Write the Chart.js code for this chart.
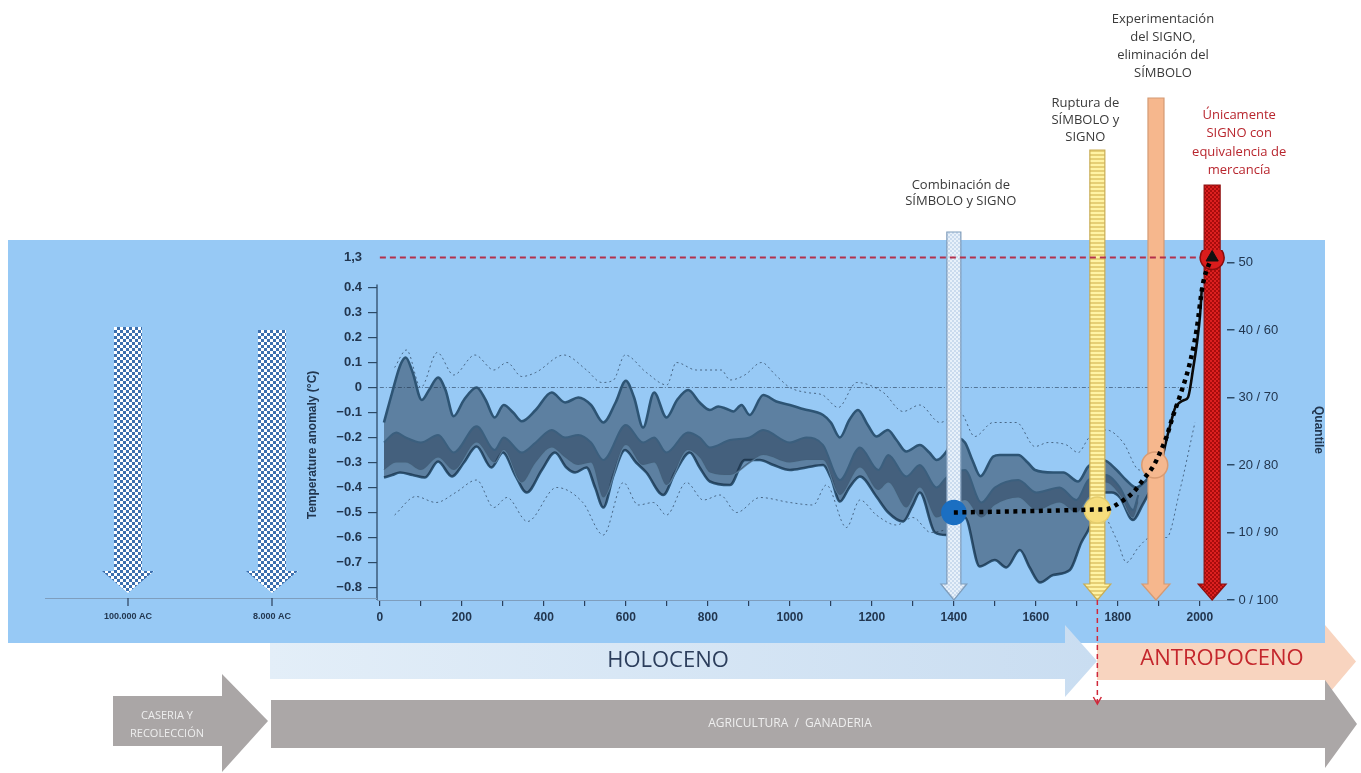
<!DOCTYPE html>
<html><head><meta charset="utf-8">
<script src="https://cdn.jsdelivr.net/npm/chart.js@4.4.1/dist/chart.umd.min.js"></script>
<style>html,body{margin:0;padding:0;background:#fff;}canvas{display:block;}</style>
</head><body>
<canvas id="c" width="1361" height="773"></canvas>
<script>
// ---------- DATA ----------
const upperYears = [10,30,50,63,80,102,120,142,160,180,205,236,258,280,302,325,346,380,419,452,484,515,545,575,600,620,642,669,699,725,752,780,805,825,845,862,882,902,935,967,1000,1032,1081,1100,1122,1145,1166,1190,1211,1239,1260,1284,1317,1340,1358,1382,1400,1427,1445,1465,1496,1512,1557,1580,1598,1642,1667,1703,1728,1764,1797,1820,1845,1870,1895];
const upperVals  = [-0.14,-0.02,0.09,0.12,0.06,-0.05,-0.01,0.04,-0.01,-0.115,-0.05,0.0,-0.05,-0.12,-0.07,-0.1,-0.135,-0.09,-0.02,-0.06,-0.04,-0.07,-0.14,-0.06,0.027,-0.04,-0.16,-0.02,-0.12,-0.05,-0.01,-0.06,-0.09,-0.076,-0.085,-0.096,-0.07,-0.11,-0.03,-0.056,-0.07,-0.086,-0.11,-0.14,-0.2,-0.13,-0.09,-0.15,-0.196,-0.17,-0.21,-0.256,-0.23,-0.26,-0.29,-0.256,-0.2,-0.22,-0.29,-0.355,-0.276,-0.27,-0.27,-0.3,-0.33,-0.34,-0.34,-0.376,-0.316,-0.29,-0.33,-0.37,-0.4,-0.37,-0.32];
const lowerYears = [10,30,49,80,110,142,176,205,236,272,300,330,358,395,427,455,476,504,525,545,570,598,625,650,691,720,756,780,805,854,890,927,960,1000,1040,1081,1100,1122,1145,1171,1211,1240,1276,1300,1317,1354,1382,1400,1427,1463,1500,1528,1561,1585,1610,1642,1683,1711,1728,1750,1764,1785,1805,1837,1860,1895];
const lowerVals  = [-0.36,-0.35,-0.34,-0.35,-0.36,-0.296,-0.356,-0.3,-0.236,-0.32,-0.26,-0.35,-0.42,-0.33,-0.26,-0.32,-0.34,-0.32,-0.4,-0.48,-0.35,-0.25,-0.3,-0.34,-0.43,-0.34,-0.26,-0.32,-0.376,-0.39,-0.29,-0.29,-0.31,-0.33,-0.32,-0.31,-0.36,-0.456,-0.4,-0.356,-0.436,-0.5,-0.536,-0.47,-0.42,-0.58,-0.59,-0.57,-0.52,-0.716,-0.69,-0.72,-0.65,-0.72,-0.78,-0.75,-0.73,-0.62,-0.57,-0.48,-0.42,-0.42,-0.44,-0.53,-0.47,-0.36];
const medianYears = [10,40,63,100,142,180,236,280,302,346,380,419,452,484,515,545,600,642,669,699,751,780,805,854,902,935,1000,1040,1081,1122,1171,1216,1240,1284,1317,1358,1382,1427,1467,1500,1557,1601,1658,1699,1728,1770,1805,1837,1850];
const medianVals  = [-0.22,-0.18,-0.2,-0.22,-0.19,-0.26,-0.155,-0.25,-0.2,-0.26,-0.22,-0.17,-0.2,-0.19,-0.22,-0.29,-0.15,-0.22,-0.2,-0.26,-0.18,-0.2,-0.24,-0.21,-0.2,-0.17,-0.22,-0.2,-0.23,-0.37,-0.24,-0.33,-0.27,-0.356,-0.31,-0.4,-0.36,-0.33,-0.46,-0.4,-0.37,-0.42,-0.4,-0.45,-0.37,-0.35,-0.4,-0.49,-0.43];
const innerLowVals = [-0.33,-0.3,-0.3,-0.33,-0.28,-0.33,-0.22,-0.3,-0.25,-0.38,-0.3,-0.24,-0.28,-0.31,-0.3,-0.44,-0.23,-0.31,-0.3,-0.39,-0.25,-0.28,-0.34,-0.35,-0.3,-0.27,-0.3,-0.29,-0.29,-0.43,-0.32,-0.41,-0.38,-0.48,-0.4,-0.52,-0.5,-0.45,-0.52,-0.47,-0.44,-0.49,-0.46,-0.5,-0.44,-0.38,-0.43,-0.52,-0.46];
const dotUpYears = [36,65,100,140,180,232,278,310,346,380,449,504,541,570,598,650,700,723,772,833,854,890,931,965,1000,1041,1080,1118,1163,1228,1276,1317,1366,1415,1451,1496,1553,1598,1630,1675,1703,1730,1772,1813,1853,1880];
const dotUpVals  = [0.08,0.15,0.0,0.14,0.05,0.13,0.07,0.1,0.044,0.06,0.13,0.07,0.02,0.03,0.13,0.06,0.01,0.1,0.07,0.07,0.03,0.05,0.1,0.05,0.0,-0.02,-0.03,-0.08,0.02,-0.02,-0.096,-0.07,-0.14,-0.1,-0.196,-0.14,-0.14,-0.236,-0.22,-0.23,-0.26,-0.2,-0.17,-0.22,-0.33,-0.3];
const dotLowYears = [36,88,137,185,236,278,310,360,431,495,545,594,630,667,699,748,789,830,870,927,1000,1057,1089,1138,1171,1211,1260,1300,1344,1380,1500,1772,1800,1821,1850,1880,1919,1950,1988];
const dotLowVals  = [-0.51,-0.436,-0.46,-0.42,-0.37,-0.48,-0.44,-0.536,-0.4,-0.46,-0.59,-0.38,-0.47,-0.46,-0.51,-0.38,-0.45,-0.43,-0.5,-0.44,-0.46,-0.47,-0.39,-0.56,-0.45,-0.51,-0.55,-0.52,-0.58,-0.57,null,-0.52,-0.62,-0.7,-0.64,-0.6,-0.6,-0.42,-0.14];
const instYears = [1900,1910,1920,1931,1940,1951,1962,1971,1984,1993,2000,2005];
const instVals  = [-0.34,-0.27,-0.2,-0.13,-0.08,-0.06,-0.05,-0.04,0.08,0.18,0.28,0.40];
const trendYears = [1400,1500,1600,1700,1750,1772,1805,1837,1866,1886,1903,1919,1934,1951,1976,1992,2007,2024,2030];
const trendVals  = [-0.5,-0.497,-0.494,-0.49,-0.488,-0.487,-0.46,-0.42,-0.36,-0.316,-0.26,-0.196,-0.116,-0.036,0.10,0.23,0.41,0.50,0.52];
const zeroYears = [0,2000];
const zeroVals  = [0,0];
const refYears = [0,2025];
const refVals  = [0.52,0.52];           // "1,3" break level
const markerYears  = [1400,1750,1890,2030];
const markerValues = [-0.5,-0.49,-0.31,0.52];
const annotYears = [1400,1750,1893,2030];
const annotLabels = [
  ["Combinación de","SÍMBOLO y SIGNO"],
  ["Ruptura de","SÍMBOLO y","SIGNO"],
  ["Experimentación","del SIGNO,","eliminación del","SÍMBOLO"],
  ["Únicamente","SIGNO con","equivalencia de","mercancía"]
];
const leftTicks = [-0.8,-0.7,-0.6,-0.5,-0.4,-0.3,-0.2,-0.1,0,0.1,0.2,0.3,0.4];
const breakTickValue = 0.52, breakTickLabel = "1,3";
const xTicks = [0,100,200,300,400,500,600,700,800,900,1000,1100,1200,1300,1400,1500,1600,1700,1800,1900,2000];
const xLabelTicks = [0,200,400,600,800,1000,1200,1400,1600,1800,2000];
const rightTicks = [0,10,20,30,40,50];
const rightLabels = ["0 / 100","10 / 90","20 / 80","30 / 70","40 / 60","50"];
const prehistLabels = ["100.000 AC","8.000 AC"];
const eraLabels = ["HOLOCENO","ANTROPOCENO"];
const activityLabels = [["CASERIA Y","RECOLECCIÓN"],["AGRICULTURA  /  GANADERIA"]];
const yTitle = "Temperature anomaly (°C)";
const y2Title = "Quantile";

// ---------- helpers ----------
const pts = (xs, ys) => xs.map((x,i)=>({x, y: ys[i]}));
const TXT = '#22364f';
const PANEL = '#97c9f5';
function checker(ctx,a,b,s){const c=document.createElement('canvas');c.width=c.height=2*s;const g=c.getContext('2d');g.fillStyle=a;g.fillRect(0,0,2*s,2*s);g.fillStyle=b;g.fillRect(0,0,s,s);g.fillRect(s,s,s,s);return ctx.createPattern(c,'repeat');}
function stripes(ctx,a,b,s){const c=document.createElement('canvas');c.width=2;c.height=2*s;const g=c.getContext('2d');g.fillStyle=a;g.fillRect(0,0,2,2*s);g.fillStyle=b;g.fillRect(0,s,2,s);return ctx.createPattern(c,'repeat');}
function downArrow(ctx,cx,top,tip,bw,hw,hl,fill,stroke,lw){
  ctx.beginPath();
  ctx.moveTo(cx-bw/2,top);ctx.lineTo(cx+bw/2,top);ctx.lineTo(cx+bw/2,tip-hl);ctx.lineTo(cx+hw/2,tip-hl);
  ctx.lineTo(cx,tip);ctx.lineTo(cx-hw/2,tip-hl);ctx.lineTo(cx-bw/2,tip-hl);ctx.closePath();
  ctx.fillStyle=fill;ctx.fill();
  if(stroke){ctx.strokeStyle=stroke;ctx.lineWidth=lw||1;ctx.stroke();}
}
function rightArrow(ctx,x0,top,bottom,hx,tip,htop,hbot,fill){
  const mid=(top+bottom)/2;
  ctx.beginPath();
  ctx.moveTo(x0,top);ctx.lineTo(hx,top);ctx.lineTo(hx,htop);ctx.lineTo(tip,mid);ctx.lineTo(hx,hbot);ctx.lineTo(hx,bottom);ctx.lineTo(x0,bottom);ctx.closePath();
  ctx.fillStyle=fill;ctx.fill();
}

const deco = {
  id:'deco',
  beforeDraw(chart){
    const ctx=chart.ctx;ctx.save();
    ctx.fillStyle='#fff';ctx.fillRect(0,0,chart.width,chart.height);
    ctx.fillStyle=PANEL;ctx.fillRect(8,240,1317,403);
    ctx.restore();
  },
  afterDatasetDraw(chart,args){
    if(chart.data.datasets[args.index].label!=='instrumental') return;
    const ctx=chart.ctx, xs=chart.scales.x, ys=chart.scales.y;
    const tip=ys.getPixelForValue(-0.85);
    const tops=[232,150,98,185];
    const fills=[checker(ctx,'#e8f1fa','#cadbee',2), stripes(ctx,'#fff3a4','#e6cf74',2), '#f6b78d', checker(ctx,'#dc2020','#a80c0c',2)];
    const strokes=['#7f9dbb','#c9ad55','#d49a74','#8e1010'];
    const widths=[14,15,16,16];
    ctx.save();
    annotYears.forEach((yr,i)=>{
      const cx=xs.getPixelForValue(yr);
      downArrow(ctx,cx,tops[i],tip,widths[i],widths[i]+12,16,fills[i],strokes[i],1.2);
    });
    ctx.restore();
  },
  afterDraw(chart){
    const ctx=chart.ctx, xs=chart.scales.x, ys=chart.scales.y, ca=chart.chartArea;
    ctx.save();
    // left axis line
    ctx.strokeStyle='#2d4a66';ctx.lineWidth=1.3;
    ctx.beginPath();ctx.moveTo(ca.left,ys.getPixelForValue(0.4)-3);ctx.lineTo(ca.left,ca.bottom);ctx.stroke();
    // baseline extension to the far past
    ctx.strokeStyle='#7e9ebe';ctx.lineWidth=1;
    ctx.beginPath();ctx.moveTo(45,ca.bottom-1.5);ctx.lineTo(ca.left,ca.bottom-1.5);ctx.stroke();
    // axis titles
    ctx.fillStyle=TXT;ctx.font='bold 12px "Liberation Sans", Arial';ctx.textAlign='center';ctx.textBaseline='middle';
    ctx.save();ctx.translate(313,445);ctx.rotate(-Math.PI/2);ctx.fillText(yTitle,0,0);ctx.restore();
    ctx.save();ctx.translate(1318,430);ctx.rotate(Math.PI/2);ctx.fillText(y2Title,0,0);ctx.restore();
    // prehistoric checkered arrows
    const blueCheck=checker(ctx,'#ffffff','#3c6fae',3);
    const pre=[[128,327],[272,330]];
    pre.forEach((p,i)=>{
      downArrow(ctx,p[0],p[1],593,28,52,22,blueCheck,null);
      ctx.strokeStyle='#2a3f5a';ctx.lineWidth=1.2;
      ctx.beginPath();ctx.moveTo(p[0],598);ctx.lineTo(p[0],606);ctx.stroke();
      ctx.fillStyle=TXT;ctx.font='bold 9px "Liberation Sans", Arial';ctx.textAlign='center';ctx.textBaseline='middle';
      ctx.fillText(prehistLabels[i],p[0],617);
    });
    // era arrows
    const gH=ctx.createLinearGradient(270,0,1097,0);gH.addColorStop(0,'#e3eef8');gH.addColorStop(1,'#c9ddf1');
    rightArrow(ctx,270,643,679,1065,1097,625,697,gH);
    rightArrow(ctx,1097,643,680,1325,1356,625,698,'#f8d4bf');
    ctx.font='22px "Open Sans", "Liberation Sans", sans-serif';ctx.textAlign='center';ctx.textBaseline='middle';
    ctx.fillStyle='#2c3e5c';ctx.fillText(eraLabels[0],668,661);
    ctx.fillStyle='#c4262c';ctx.fillText(eraLabels[1],1222,659);
    // activity arrows
    rightArrow(ctx,113,696,746,222,268,674,772,'#aaa6a6');
    rightArrow(ctx,271,700,748,1325,1357,680,768,'#aba7a7');
    ctx.fillStyle='#eeeeee';ctx.font='11px "Open Sans", "Liberation Sans", sans-serif';
    ctx.fillText(activityLabels[0][0],167,716);ctx.fillText(activityLabels[0][1],167,734);
    ctx.font='12px "Open Sans", "Liberation Sans", sans-serif';
    ctx.fillText(activityLabels[1][0],790,724);
    // red dashed vertical at the Anthropocene boundary
    const bx=xs.getPixelForValue(annotYears[1]);
    ctx.strokeStyle='#d0283a';ctx.lineWidth=1.5;ctx.setLineDash([5,4]);
    ctx.beginPath();ctx.moveTo(bx,ca.bottom);ctx.lineTo(bx,703);ctx.stroke();ctx.setLineDash([]);
    ctx.beginPath();ctx.moveTo(bx-4,697);ctx.lineTo(bx,704);ctx.lineTo(bx+4,697);ctx.stroke();
    // annotation labels
    const lx=[7,-12,7,27], ly=[185,103,19,115], lh=[16,17,18,18.5];
    ctx.font='13px "Open Sans", "Liberation Sans", sans-serif';ctx.textAlign='center';ctx.textBaseline='middle';
    annotLabels.forEach((lines,i)=>{
      const cx=xs.getPixelForValue(annotYears[i])+lx[i];
      ctx.fillStyle= i===3 ? '#b8262e' : '#3a3a3a';
      lines.forEach((t,j)=>ctx.fillText(t,cx,ly[i]+j*lh[i]));
    });
    ctx.restore();
  }
};

const line = (label, xs, ys, o) => Object.assign({label, data: pts(xs,ys), pointRadius:0, cubicInterpolationMode:'monotone', borderWidth:1, fill:false}, o);

const datasets = [
  line('dotUp', dotUpYears, dotUpVals, {borderColor:'rgba(30,50,75,0.65)', borderDash:[2,3], borderWidth:1, order:10}),
  line('dotLow', dotLowYears, dotLowVals, {borderColor:'rgba(30,50,75,0.65)', borderDash:[2,3], borderWidth:1, order:10, spanGaps:false}),
  line('zero', zeroYears, zeroVals, {borderColor:'rgba(30,50,75,0.55)', borderDash:[4,2,1,2], borderWidth:1, order:10}),
  line('upper', upperYears, upperVals, {borderColor:'#2d5474', borderWidth:2.6, order:9, fill:{target:4}, backgroundColor:'rgba(30,48,68,0.48)'}),
  line('lower', lowerYears, lowerVals, {borderColor:'#2d5474', borderWidth:2.6, order:9}),
  line('median', medianYears, medianVals, {borderColor:'#3b5f7e', borderWidth:2, order:8, fill:{target:6}, backgroundColor:'rgba(22,38,56,0.35)'}),
  line('innerLow', medianYears, innerLowVals, {borderColor:'#5b7f9e', borderWidth:1.6, order:8}),
  line('instrumental', instYears, instVals, {borderColor:'#0a0a0a', borderWidth:2.6, order:7}),
  line('ref', refYears, refVals, {borderColor:'#b4304c', borderDash:[6,4], borderWidth:2, order:4, cubicInterpolationMode:'default', tension:0}),
  {label:'markers', data: pts(markerYears, markerValues), showLine:false, order:3,
    pointRadius:[12,13,13,12], pointBackgroundColor:['#1b6fc2','#f6dd7c','#f5b88f','#d91c1c'],
    pointBorderColor:['#1b6fc2','#e4cc6c','#d99b72','#8a0c0c'], pointBorderWidth:1.5},
  line('trend', trendYears, trendVals, {borderColor:'#000', borderDash:[4,4.5], borderWidth:4.5, order:1}),
  {label:'tri', data: pts([markerYears[3]], [markerValues[3]]), showLine:false, order:0,
    pointStyle:'triangle', pointRadius:7, pointBackgroundColor:'#111', pointBorderColor:'#111'}
];

new Chart(document.getElementById('c'), {
  type:'line',
  data:{datasets},
  options:{
    responsive:false, devicePixelRatio:1, animation:false, events:[],
    layout:{padding:{top:250,left:0,right:0,bottom:143}},
    plugins:{legend:{display:false}, tooltip:{enabled:false}},
    scales:{
      x:{type:'linear', min:-7, max:2065,
        afterBuildTicks:s=>{s.ticks=xTicks.map(v=>({value:v}));},
        afterFit:s=>{s.height=30;},
        border:{display:true,color:'#7e9ebe',width:1},
        grid:{drawOnChartArea:false, tickLength:6, color:'#2a3f5a', lineWidth:1.2},
        ticks:{autoSkip:false, maxRotation:0, padding:4, color:TXT, font:{family:'"Liberation Sans", Arial', size:12, weight:'bold'},
          callback:v=> xLabelTicks.includes(v) ? String(v) : ''}
      },
      y:{type:'linear', position:'left', min:-0.85, max:0.55,
        afterBuildTicks:s=>{s.ticks=leftTicks.concat([breakTickValue]).map(v=>({value:v}));},
        afterFit:s=>{s.width=377;},
        border:{display:false},
        grid:{drawOnChartArea:false, tickLength:9, lineWidth:1.2, color:c=> c.tick && c.tick.value===breakTickValue ? 'rgba(0,0,0,0)' : '#2d4a66'},
        ticks:{autoSkip:false, padding:6, color:TXT,
          font:{family:'"Liberation Sans", Arial', size:13, weight:'bold'},
          callback:v=> v===breakTickValue ? breakTickLabel : (Math.abs(v)<1e-9 ? '0' : (v<0 ? '\u2212'+Math.abs(v).toFixed(1) : v.toFixed(1)))}
      },
      y2:{type:'linear', position:'right', min:0, max:51.85,
        afterBuildTicks:s=>{s.ticks=rightTicks.map(v=>({value:v}));},
        afterFit:s=>{s.width=134.5;},
        border:{display:false},
        grid:{drawOnChartArea:false, tickLength:8, lineWidth:1.5, color:'#2d4a66'},
        ticks:{autoSkip:false, padding:4, color:TXT, font:{family:'"Liberation Sans", Arial', size:13},
          callback:v=> rightLabels[rightTicks.indexOf(v)]}
      }
    }
  },
  plugins:[deco]
});
</script>
</body></html>
